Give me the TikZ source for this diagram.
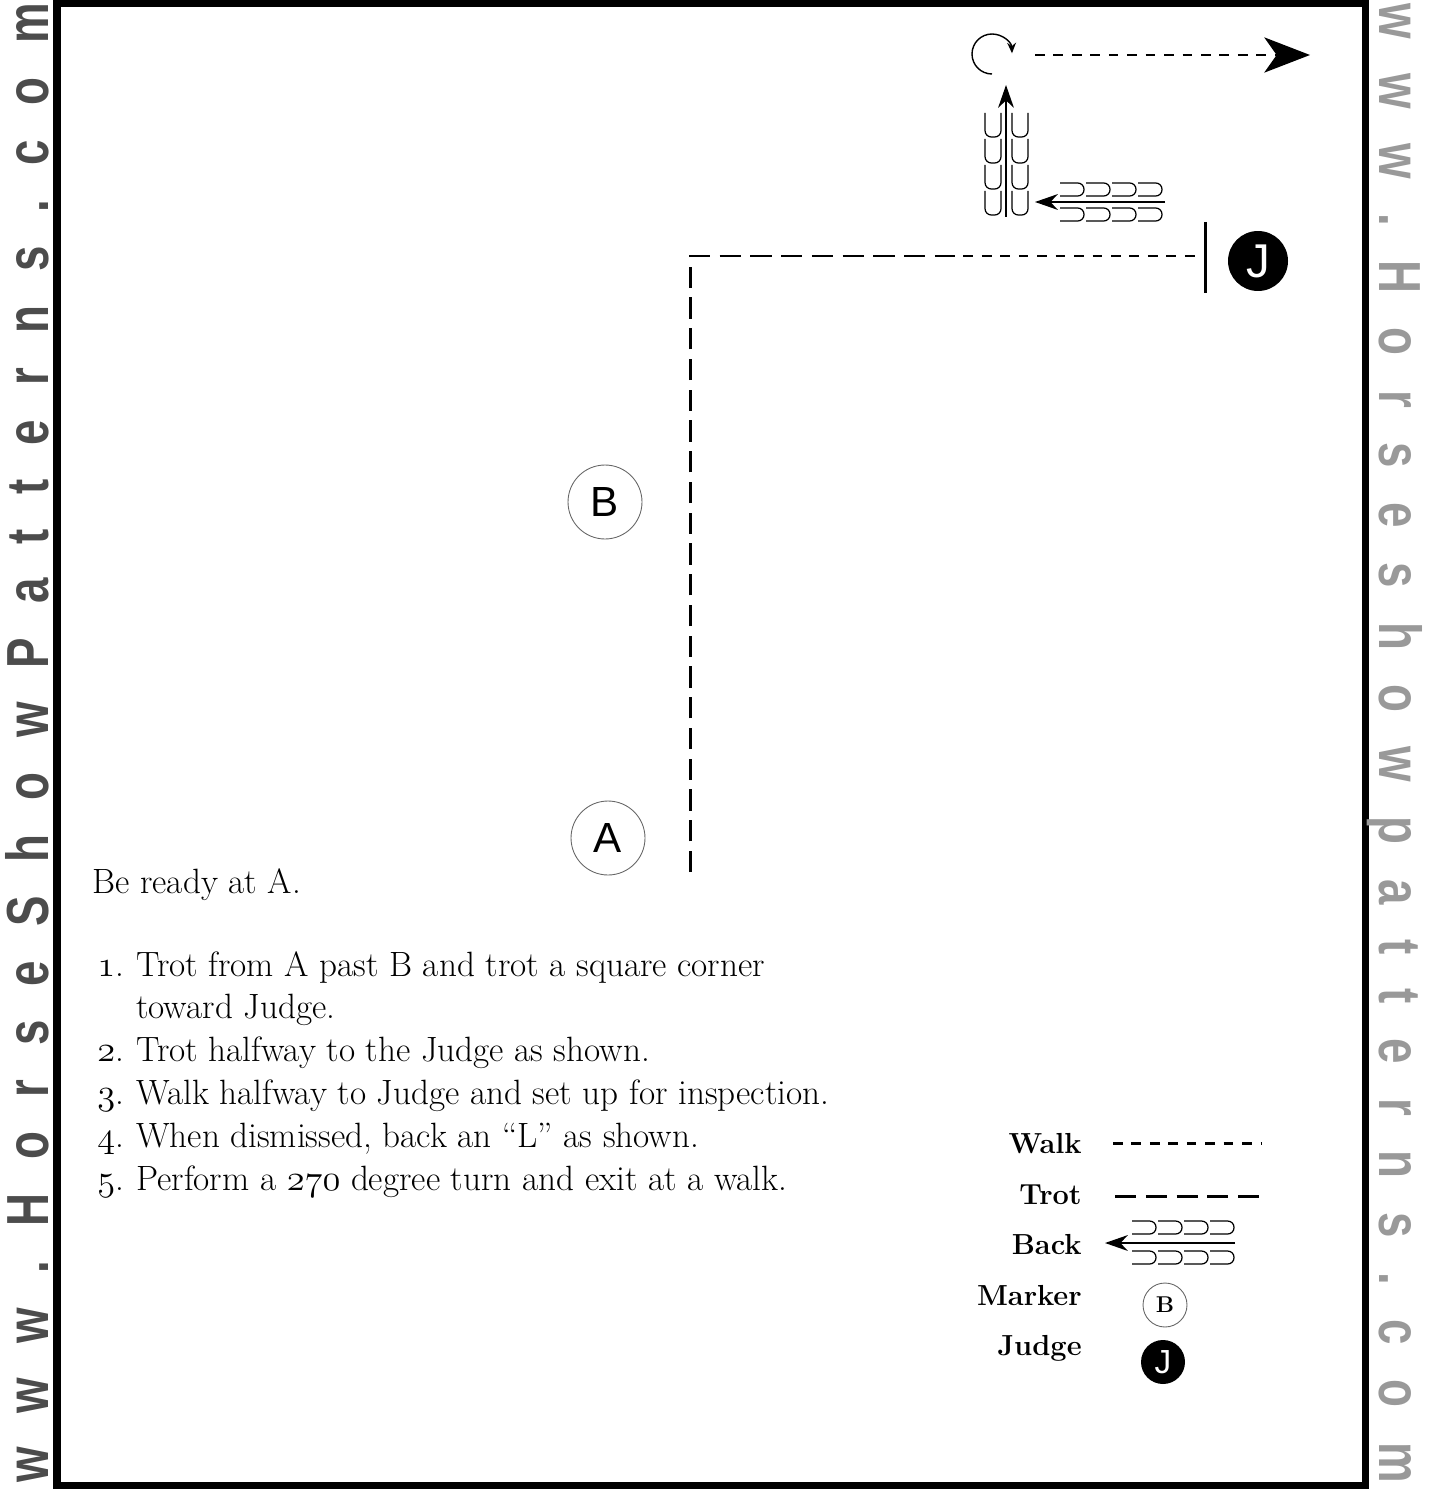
\documentclass[tikz,border=0pt]{standalone}
\usepackage{fontspec}
\newfontfamily\signfont{Liberation Sans}
\usetikzlibrary{arrows.meta}
\newcommand\osn[1]{{\usefont{OML}{lmm}{m}{it}#1}}

\begin{document}
\begin{tikzpicture}[x=0.02cm,y=-0.02cm,
  marker/.style={circle,draw=black!60,line width=0.5pt,minimum size=1.48cm,
    inner sep=0pt,font=\signfont\fontsize{24}{24}\selectfont},
  judge/.style={circle,fill=black,text=white,minimum size=1.2cm,inner sep=0pt,
    font=\signfont\fontsize{27}{27}\selectfont},
  trot/.style={line width=1.7pt,dash pattern=on 12pt off 5.5pt},
  walk/.style={line width=1.7pt,dash pattern=on 5.5pt off 5pt},
  hoof/.style={line width=0.7pt,rounded corners=3.6pt},
  backarr/.style={line width=0.9pt,-{Stealth[length=13pt,width=9pt]}},
  key/.style={anchor=base east,inner sep=0pt,font=\bfseries\fontsize{16.5}{16.5}\selectfont},
  wmark/.style={inner sep=0pt,anchor=base,font=\signfont\bfseries\fontsize{26}{26}\selectfont}]
\useasboundingbox (0,0) rectangle (1430,1490);
% frame and side lettering
\draw[line width=4pt] (57,3) rectangle (1365,1485);
\node[wmark,text=black!70,rotate=90] (wmleft) at (48,743) {\scalebox{1}[1.3]{\makebox[29.6cm][s]{%
  w\hfill w\hfill w\hfill .\hfill H\hfill o\hfill r\hfill s\hfill e\hfill S\hfill h\hfill o\hfill w\hfill
  P\hfill a\hfill t\hfill t\hfill e\hfill r\hfill n\hfill s\hfill .\hfill c\hfill o\hfill m}}};
\node[wmark,text=black!40,rotate=-90] (wmright) at (1379,743) {\scalebox{1}[1.3]{\makebox[29.6cm][s]{%
  w\hfill w\hfill w\hfill .\hfill H\hfill o\hfill r\hfill s\hfill e\hfill s\hfill h\hfill o\hfill w\hfill
  p\hfill a\hfill t\hfill t\hfill e\hfill r\hfill n\hfill s\hfill .\hfill c\hfill o\hfill m}}};

% markers and judge
\node[marker] (B) at (605,502) {B};
\node[marker] (A) at (608,838) {A};
\node[judge] (J) at (1258,261) {J};
\draw[line width=1.7pt] (1205,222) -- (1205,293);

% pattern
\coordinate (start) at (690,872);
\coordinate (corner) at (690,256);
\coordinate (half) at (945,256);
\coordinate (stop) at (1198,256);
\draw[trot] (start) -- (corner) -- (half);
\draw[walk] (half) -- (stop);

% back an L
\coordinate (backstart) at (1165,202);
\coordinate (backcorner) at (1035,202);
\coordinate (upstart) at (1006,217);
\coordinate (upend) at (1006,85);
\foreach \x in {1060,1086,1112,1138}{
  \draw[hoof] (\x,183) -- (\x+24,183) -- (\x+24,196) -- (\x,196);
  \draw[hoof] (\x,208) -- (\x+24,208) -- (\x+24,221) -- (\x,221);
}
\foreach \y in {113,139,165,191}{
  \draw[hoof] (985,\y) -- (985,\y+24) -- (1001,\y+24) -- (1001,\y);
  \draw[hoof] (1012,\y) -- (1012,\y+24) -- (1028,\y+24) -- (1028,\y);
}
\draw[backarr] (backstart) -- (backcorner);
\draw[backarr] (upstart) -- (upend);

% turn and exit
\draw[line width=0.8pt,-{Stealth[length=6pt,width=5pt]}] (992,74) arc[start angle=90,end angle=358,radius=20];
\coordinate (exitstart) at (1035,55);
\coordinate (exitend) at (1310,55);
\draw[walk,-{Stealth[length=26pt,width=20pt,inset=7pt]}] (exitstart) -- (exitend);

% instructions
\node[anchor=base west,inner sep=0pt,font=\fontsize{20}{24.4}\selectfont] (ready) at (92,893) {Be ready at A.};
\node[anchor=base west,inner sep=0pt,font=\fontsize{20}{24.4}\selectfont] (steps) at (97,976) {%
  \begin{tabular}[t]{@{}r@{\hspace{7pt}}l@{}}
  \osn{1}. & Trot from A past B and trot a square corner\\
   & toward Judge.\\
  \osn{2}. & Trot halfway to the Judge as shown.\\
  \osn{3}. & Walk halfway to Judge and set up for inspection.\\
  \osn{4}. & When dismissed, back an ``L'' as shown.\\
  \osn{5}. & Perform a \osn{270} degree turn and exit at a walk.
  \end{tabular}};

% legend
\node[key] (walkkey) at (1082,1153) {Walk};
\node[key] (trotkey) at (1082,1204) {Trot};
\node[key] (backkey) at (1082,1254) {Back};
\node[key] (markerkey) at (1082,1305) {Marker};
\node[key] (judgekey) at (1082,1355) {Judge};
\draw[walk] (1113,1143) -- (1262,1143);
\draw[trot] (1115,1196) -- (1262,1196);
\foreach \x in {1132,1158,1184,1210}{
  \draw[hoof] (\x,1221) -- (\x+24,1221) -- (\x+24,1234) -- (\x,1234);
  \draw[hoof] (\x,1251) -- (\x+24,1251) -- (\x+24,1264) -- (\x,1264);
}
\draw[backarr] (1235,1243) -- (1105,1243);
\node[circle,draw=black!60,line width=0.5pt,minimum size=0.88cm,inner sep=0pt,
  font=\bfseries\fontsize{13}{13}\selectfont] (keyB) at (1165,1305) {B};
\node[judge,minimum size=0.88cm,font=\signfont\fontsize{19}{19}\selectfont] (keyJ) at (1163,1362) {J};
\end{tikzpicture}
\end{document}
